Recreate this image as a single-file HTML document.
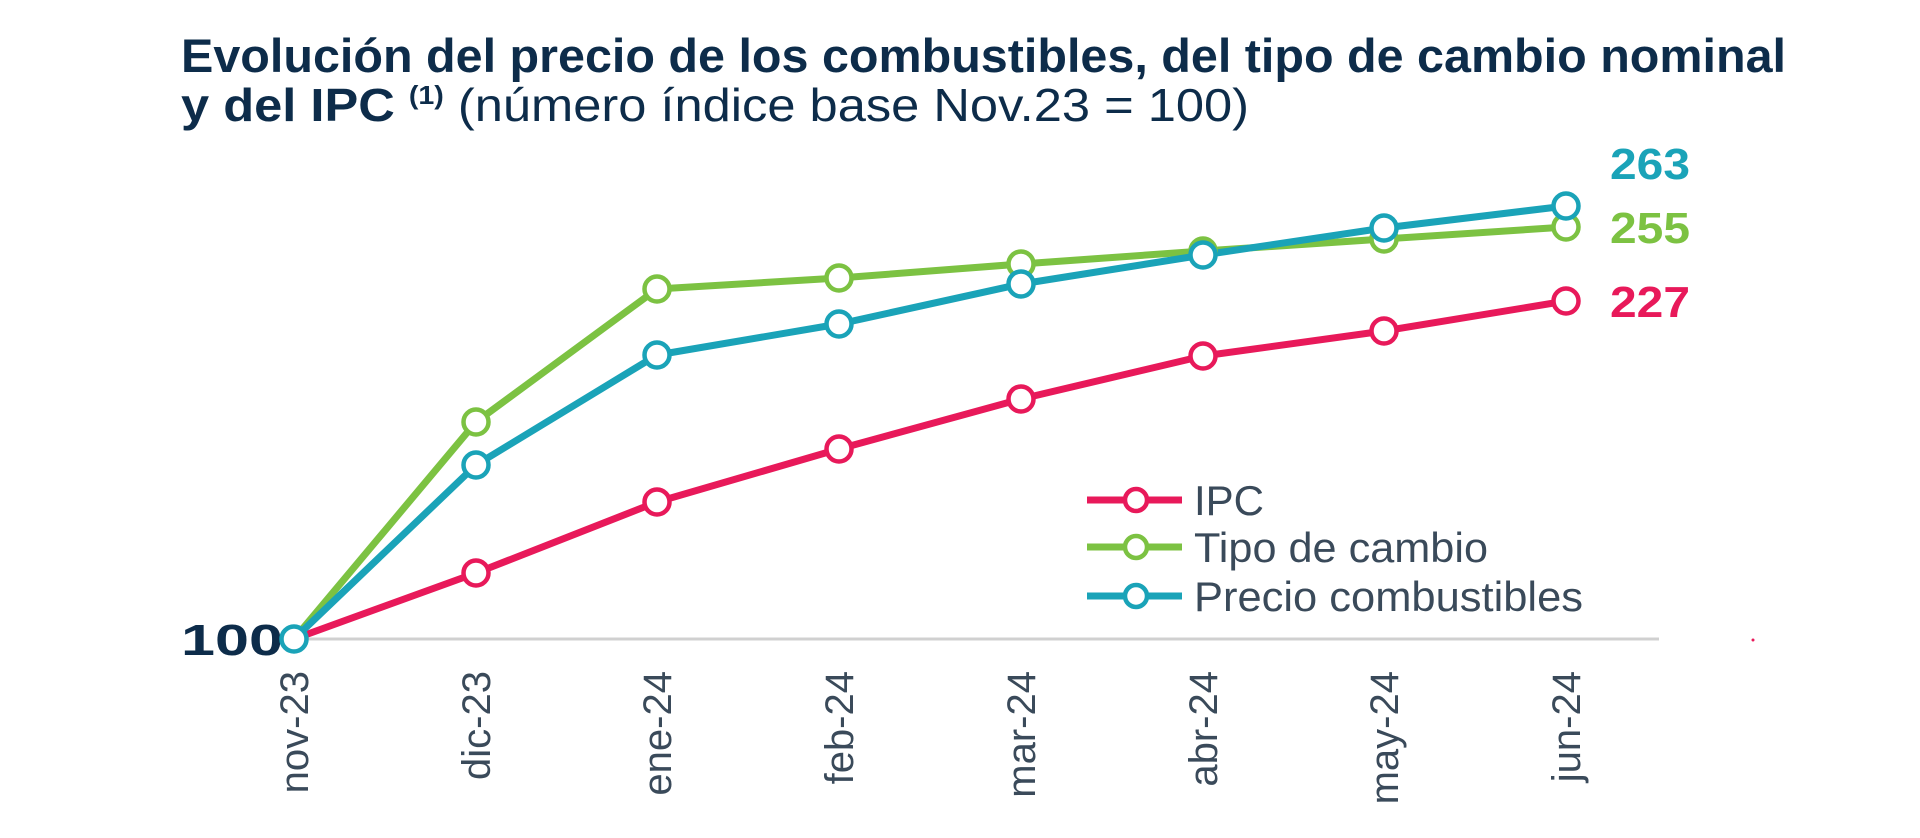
<!DOCTYPE html>
<html><head><meta charset="utf-8"><style>html,body{margin:0;padding:0;background:#fff}svg{display:block}</style></head>
<body>
<svg width="1920" height="838" viewBox="0 0 1920 838" xmlns="http://www.w3.org/2000/svg" font-family="Liberation Sans, sans-serif">
<text x="181" y="72" font-size="47" font-weight="bold" fill="#0d2c4a" textLength="1605" lengthAdjust="spacingAndGlyphs">Evolución del precio de los combustibles, del tipo de cambio nominal</text>
<text x="181" y="121" font-size="46" fill="#0d2c4a" textLength="1068" lengthAdjust="spacingAndGlyphs"><tspan font-weight="bold">y del IPC </tspan><tspan font-size="26" font-weight="bold" dy="-17">(1)</tspan><tspan dy="17"> (número índice base Nov.23 = 100)</tspan></text>
<line x1="290" y1="639" x2="1659" y2="639" stroke="#d0d0d0" stroke-width="3"/>
<circle cx="1753" cy="640" r="1.5" fill="#e8195a"/>
<text x="181" y="655" font-size="44" font-weight="bold" fill="#0d2c4a" textLength="102" lengthAdjust="spacingAndGlyphs">100</text>
<g font-size="40" fill="#3a4a5a" text-anchor="end">
<text transform="translate(308,671) rotate(-90)">nov-23</text>
<text transform="translate(490,671) rotate(-90)">dic-23</text>
<text transform="translate(671,671) rotate(-90)">ene-24</text>
<text transform="translate(853,671) rotate(-90)">feb-24</text>
<text transform="translate(1035,671) rotate(-90)">mar-24</text>
<text transform="translate(1217,671) rotate(-90)">abr-24</text>
<text transform="translate(1398,671) rotate(-90)">may-24</text>
<text transform="translate(1580,671) rotate(-90)">jun-24</text>
</g>
<g fill="none" stroke-width="7" stroke-linejoin="round">
<polyline stroke="#e8195a" points="294,639 476,573 657,502 839,449 1021,399 1203,356 1384,331 1566,301"/>
<polyline stroke="#7cc242" points="294,639 476,422 657,289 839,278 1021,264 1203,251 1384,239 1566,227"/>
<polyline stroke="#1aa3b8" points="294,639 476,465 657,355 839,324 1021,284 1203,255 1384,228 1566,206"/>
</g>
<g fill="#fff" stroke-width="4.5">
<g stroke="#e8195a"><circle cx="476" cy="573" r="12.5"/><circle cx="657" cy="502" r="12.5"/><circle cx="839" cy="449" r="12.5"/><circle cx="1021" cy="399" r="12.5"/><circle cx="1203" cy="356" r="12.5"/><circle cx="1384" cy="331" r="12.5"/><circle cx="1566" cy="301" r="12.5"/></g>
<g stroke="#7cc242"><circle cx="476" cy="422" r="12.5"/><circle cx="657" cy="289" r="12.5"/><circle cx="839" cy="278" r="12.5"/><circle cx="1021" cy="264" r="12.5"/><circle cx="1203" cy="251" r="12.5"/><circle cx="1384" cy="239" r="12.5"/><circle cx="1566" cy="227" r="12.5"/></g>
<g stroke="#1aa3b8"><circle cx="294" cy="639" r="12.5"/><circle cx="476" cy="465" r="12.5"/><circle cx="657" cy="355" r="12.5"/><circle cx="839" cy="324" r="12.5"/><circle cx="1021" cy="284" r="12.5"/><circle cx="1203" cy="255" r="12.5"/><circle cx="1384" cy="228" r="12.5"/><circle cx="1566" cy="206" r="12.5"/></g>
</g>
<g font-size="44" font-weight="bold">
<text x="1610" y="179" fill="#1aa3b8" textLength="80" lengthAdjust="spacingAndGlyphs">263</text>
<text x="1610" y="243" fill="#7cc242" textLength="80" lengthAdjust="spacingAndGlyphs">255</text>
<text x="1610" y="317" fill="#e8195a" textLength="80" lengthAdjust="spacingAndGlyphs">227</text>
</g>
<g stroke-width="7">
<line x1="1087" y1="500" x2="1182" y2="500" stroke="#e8195a"/>
<line x1="1087" y1="547" x2="1182" y2="547" stroke="#7cc242"/>
<line x1="1087" y1="596" x2="1182" y2="596" stroke="#1aa3b8"/>
</g>
<g fill="#fff" stroke-width="4.5">
<circle cx="1136" cy="500" r="11" stroke="#e8195a"/>
<circle cx="1136" cy="547" r="11" stroke="#7cc242"/>
<circle cx="1136" cy="596" r="11" stroke="#1aa3b8"/>
</g>
<g font-size="42" fill="#3a4a5a">
<text x="1194" y="515">IPC</text>
<text x="1194" y="562" textLength="294" lengthAdjust="spacingAndGlyphs">Tipo de cambio</text>
<text x="1194" y="611" textLength="389" lengthAdjust="spacingAndGlyphs">Precio combustibles</text>
</g>
</svg>
</body></html>
